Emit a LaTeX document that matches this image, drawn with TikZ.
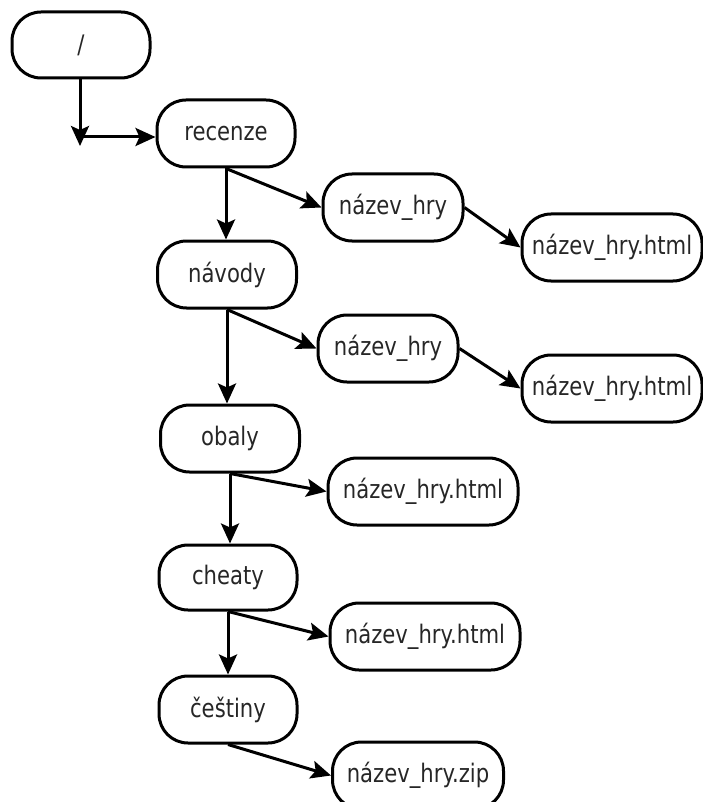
\documentclass[tikz,border=0pt]{standalone}
\usepackage{fontspec}
\setmainfont{DejaVu Sans}[FakeStretch=0.83]
\usetikzlibrary{arrows.meta}
\begin{document}
\begin{tikzpicture}[x=1pt,y=-1pt,
  box/.style={draw=black,line width=3pt,rounded corners=29pt,inner sep=0pt,
    minimum height=67pt,text=black!85,
    font=\fontsize{25.5}{30}\selectfont},
  arr/.style={line width=3pt,-{Stealth[length=20pt,width=18pt,inset=4pt]}}]
\useasboundingbox (0,0) rectangle (703,802);
\node[box,minimum width=138pt,minimum height=66pt] (root) at (81,45) {/};
\node[box,minimum width=138pt] (recenze) at (226,133.5) {recenze};
\node[box,minimum width=140pt] (nh1) at (393,207.5) {název\_hry};
\node[box,minimum width=180pt] (nhh1) at (612,247.5) {název\_hry.html};
\node[box,minimum width=139pt] (navody) at (227,274.5) {návody};
\node[box,minimum width=140pt] (nh2) at (388,348.5) {název\_hry};
\node[box,minimum width=180pt] (nhh2) at (612,388.5) {název\_hry.html};
\node[box,minimum width=139pt] (obaly) at (230,438.5) {obaly};
\node[box,minimum width=138pt,minimum height=65pt] (cheaty) at (228,577.5) {cheaty};
\node[box,minimum width=190pt] (nhh3) at (423,491.5) {název\_hry.html};
\node[box,minimum width=190pt] (nhh4) at (425,636.5) {název\_hry.html};
\node[box,minimum width=138pt] (cestiny) at (228,709.5) {češtiny};
\node[box,minimum width=171pt] (zip) at (418,775.5) {název\_hry.zip};
\coordinate (c1) at (80,146);
\coordinate (c2) at (80,137);
\draw[arr] (root.south -| c1) -- (c1);
\draw[line width=3pt] (c2) -- ++(8,0);
\draw[arr] (c2) -- (c2 -| recenze.west);
\draw[arr] (recenze.south) -- (recenze.south |- navody.north);
\draw[arr] (recenze.south) -- (nh1.west);
\draw[arr] (nh1.east) -- (nhh1.west);
\draw[arr] (navody.south) -- (navody.south |- obaly.north);
\draw[arr] (navody.south) -- (nh2.west);
\draw[arr] (nh2.east) -- (nhh2.west);
\draw[arr] (obaly.south) -- (obaly.south |- cheaty.north);
\draw[arr] (obaly.south) -- (nhh3.west);
\draw[arr] (cheaty.south) -- (cheaty.south |- cestiny.north);
\draw[arr] (cheaty.south) -- (nhh4.west);
\draw[arr] (cestiny.south) -- (zip.west);
\end{tikzpicture}
\end{document}
